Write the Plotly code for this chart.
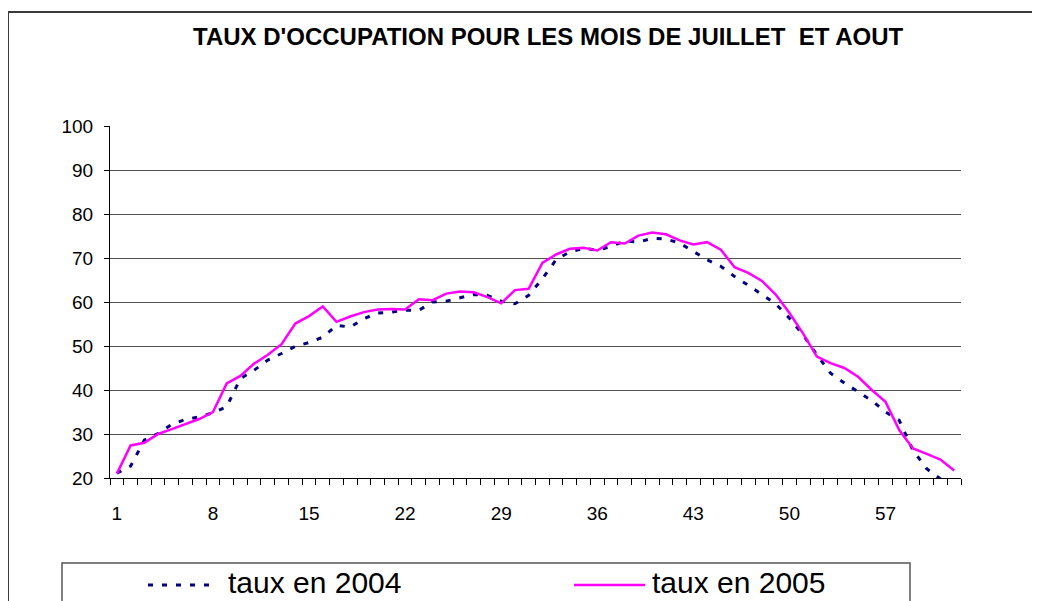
import plotly.graph_objects as go

days = list(range(1, 63))
taux_2004 = [21.1, 22.7, 28.6, 30.1, 32.2, 33.3, 33.9, 34.8, 36.2, 42.6,
             44.5, 46.8, 48.3, 49.9, 50.8, 52.0, 54.7, 54.3, 56.2, 57.5,
             57.7, 58.1, 58.1, 60.0, 60.2, 60.9, 61.7, 61.5, 60.2, 59.6,
             61.5, 65.3, 69.6, 71.4, 72.2, 71.8, 72.6, 73.9, 73.6, 74.5,
             74.3, 73.4, 71.5, 69.6, 68.1, 65.8, 63.8, 61.7, 59.6, 56.3,
             52.5, 48.0, 43.8, 41.6, 39.6, 37.6, 35.0, 33.1, 26.3, 22.1,
             19.8, 18.5]
taux_2005 = [21.0, 27.4, 28.0, 30.0, 31.1, 32.2, 33.4, 35.0, 41.5, 43.2,
             46.0, 48.0, 50.4, 55.1, 56.8, 59.0, 55.5, 56.7, 57.7, 58.3,
             58.4, 58.3, 60.6, 60.4, 61.9, 62.4, 62.2, 61.1, 59.7, 62.7,
             63.0, 68.9, 70.8, 72.1, 72.3, 71.7, 73.6, 73.3, 75.1, 75.8,
             75.4, 74.0, 73.1, 73.6, 71.9, 67.9, 66.6, 64.8, 61.7, 57.5,
             52.8, 47.6, 46.1, 45.0, 43.0, 40.0, 37.3, 30.9, 26.7, 25.5,
             24.2, 21.7]
x_tick_labels = [1, 8, 15, 22, 29, 36, 43, 50, 57]
title_text = "TAUX D'OCCUPATION POUR LES MOIS DE JUILLET  ET AOUT"
name_2004 = "taux en 2004"
name_2005 = "taux en 2005"

FONT = "Liberation Sans, Arial, sans-serif"
C2004 = "#000080"
C2005 = "#FF00FF"
DASH = "5px,9px"

# the page body adds an 8px margin; work in page pixels and shift
OFF = 8
W, H = 1040 - OFF, 601 - OFF
L, R, T, B = 110 - OFF, 961 - OFF, 126 - OFF, 478 - OFF

def px(xp):
    return (xp - OFF - L) / (R - L)

def py(yp):
    return (B - (yp - OFF)) / (B - T)

fig = go.Figure()
fig.add_trace(go.Scatter(x=days, y=taux_2004, mode="lines", name=name_2004,
                         line=dict(color=C2004, width=3, dash=DASH)))
fig.add_trace(go.Scatter(x=days, y=taux_2005, mode="lines", name=name_2005,
                         line=dict(color=C2005, width=2.5)))

shapes = [
    # outer chart border
    dict(type="rect", xref="paper", yref="paper", x0=px(8), x1=px(1100),
         y0=py(700), y1=py(12), line=dict(color="#3a3a3a", width=2), layer="below"),
    # legend box
    dict(type="rect", xref="paper", yref="paper", x0=px(62), x1=px(910),
         y0=py(700), y1=py(563), line=dict(color="#555555", width=1.5)),
    # legend symbols
    dict(type="line", xref="paper", yref="paper", x0=px(148), x1=px(218),
         y0=py(585), y1=py(585), line=dict(color=C2004, width=3, dash=DASH)),
    dict(type="line", xref="paper", yref="paper", x0=px(574), x1=px(645),
         y0=py(585), y1=py(585), line=dict(color=C2005, width=2.5)),
]
annotations = [
    dict(text=name_2004, xref="paper", yref="paper", x=px(226), y=py(601),
         xanchor="left", yanchor="bottom", showarrow=False,
         font=dict(family=FONT, size=30, color="black")),
    dict(text=name_2005, xref="paper", yref="paper", x=px(650), y=py(601),
         xanchor="left", yanchor="bottom", showarrow=False,
         font=dict(family=FONT, size=30, color="black")),
    dict(text="<b>" + title_text + "</b>", xref="paper", yref="paper",
         x=px(548), y=py(37), xanchor="center", yanchor="middle", showarrow=False,
         font=dict(family=FONT, size=24, color="black")),
]

fig.update_layout(
    width=W, height=H,
    margin=dict(l=L, r=W - R, t=T, b=H - B, pad=0),
    paper_bgcolor="white", plot_bgcolor="white",
    showlegend=False,
    font=dict(family=FONT, size=19, color="black"),
    shapes=shapes, annotations=annotations,
)
fig.update_xaxes(
    range=[0.5, 62.5], tickmode="array", tickvals=x_tick_labels,
    ticktext=[str(v) for v in x_tick_labels],
    ticks="", showgrid=False, zeroline=False,
    showline=True, linecolor="black", linewidth=1,
    ticklabelstandoff=18,
    tickfont=dict(family=FONT, size=19, color="black"),
    minor=dict(tickmode="array", tickvals=[i + 0.5 for i in range(0, 63)],
               ticks="outside", ticklen=6, tickcolor="black", tickwidth=1,
               showgrid=False),
)
fig.update_yaxes(
    range=[20, 100], tickmode="linear", tick0=20, dtick=10,
    ticks="outside", ticklen=5, tickcolor="black", tickwidth=1,
    showgrid=True, gridcolor="#505050", gridwidth=1, zeroline=False,
    showline=True, linecolor="black", linewidth=1,
    ticklabelstandoff=7,
    tickfont=dict(family=FONT, size=19, color="black"),
)

fig.write_html("out.html")
